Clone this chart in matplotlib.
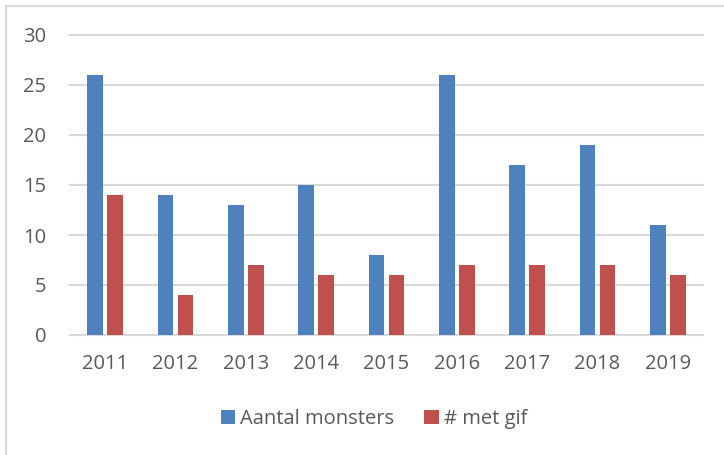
import matplotlib
matplotlib.use('Agg')
import matplotlib.pyplot as plt
import numpy as np
from matplotlib.patches import Rectangle

plt.rcParams['font.family'] = ['Open Sans', 'DejaVu Sans']

# data
jaren = ['2011', '2012', '2013', '2014', '2015', '2016', '2017', '2018', '2019']
aantal_monsters = [26, 14, 13, 15, 8, 26, 17, 19, 11]
met_gif = [14, 4, 7, 6, 6, 7, 7, 7, 6]

blauw = '#4F81BD'
rood = '#C0504D'
grijs_tekst = '#595959'
grijs_lijn = '#D9D9D9'

W, H = 724, 455
fig = plt.figure(figsize=(W / 100, H / 100), dpi=100)
ax = fig.add_axes([70 / W, 1 - 335 / H, (703 - 70) / W, 300 / H])

x = np.arange(len(jaren))
bw = 0.227
off = 0.142
ax.bar(x - off, aantal_monsters, bw, color=blauw, label='Aantal monsters', zorder=3)
ax.bar(x + off, met_gif, bw, color=rood, label='# met gif', zorder=3)

ax.set_xlim(-0.5, len(jaren) - 0.5)
ax.set_ylim(0, 30)
ax.set_yticks(range(0, 31, 5))
ax.set_xticks(x)
ax.set_xticklabels(jaren)
for yv in range(0, 31, 5):
    ax.axhline(yv, color=grijs_lijn, lw=1.5, zorder=1, clip_on=False)
for s in ax.spines.values():
    s.set_visible(False)
ax.tick_params(axis='both', length=0, colors=grijs_tekst, labelsize=14.5)
ax.tick_params(axis='y', pad=17)
ax.tick_params(axis='x', pad=14)

leg = fig.legend(loc='center', bbox_to_anchor=(374 / W, 1 - 419 / H), ncol=2,
                 frameon=False, fontsize=14.5, handlelength=0.7, handleheight=0.7,
                 handletextpad=0.25, columnspacing=1.5, labelcolor=grijs_tekst)

# rand rond de grafiek
fig.patches.append(Rectangle((6 / W, -0.01), 1.2, 1 - 6 / H + 0.01, transform=fig.transFigure,
                             fill=False, edgecolor=grijs_lijn, lw=1.5))

fig.savefig('out.png', dpi=100, facecolor='white')
